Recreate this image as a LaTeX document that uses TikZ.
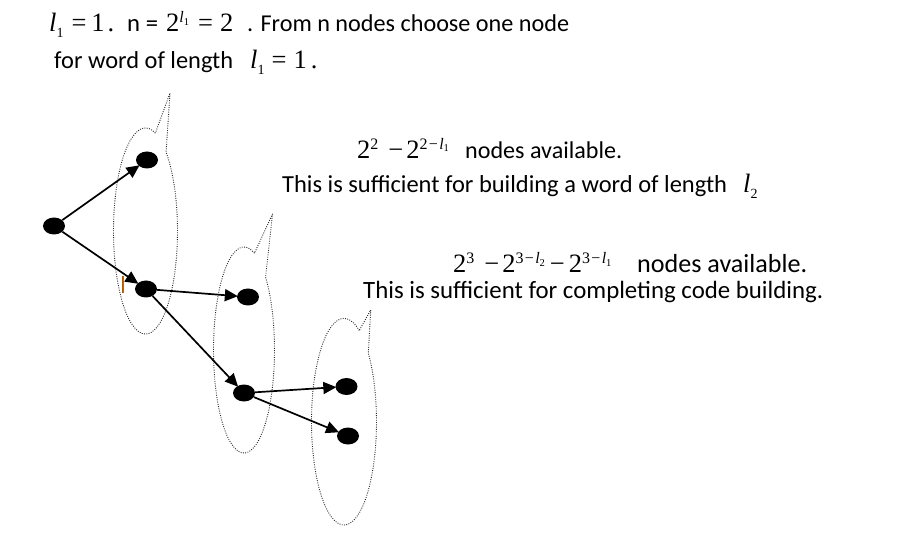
\documentclass[tikz,border=0pt]{standalone}
\usepackage{fontspec}
\setmainfont{Carlito}
\newfontfamily\tm{Liberation Serif}
\usetikzlibrary{shapes.geometric,arrows.meta,calc}
\newcommand\MB{\tm\fontsize{26.5}{26.5}\selectfont}
\newcommand\Sb[1]{\raisebox{-6pt}{\fontsize{14}{14}\selectfont #1}}
\newcommand\Ex[1]{\raisebox{9pt}{\fontsize{16}{16}\selectfont #1}}
\newcommand\SSb[1]{\raisebox{-2.5pt}{\fontsize{10.5}{10.5}\selectfont #1}}
\newcommand\Em{\hspace{1.3pt}−\hspace{1.3pt}}
\tikzset{
  txt/.style={anchor=base west, inner sep=0pt, font=\fontsize{24.7}{26}\selectfont},
  mth/.style={anchor=base west, inner sep=0pt, font=\MB},
  dotnode/.style={ellipse, fill=black, minimum width=22pt, minimum height=17pt, inner sep=0pt},
  arr/.style={line width=1.7pt, -{Triangle[length=13pt,width=12pt]}, shorten >=-1pt},
  bal/.style={black!85, line width=0.9pt, dash pattern=on 0.9pt off 1.4pt, line join=round}
}
\begin{document}
\begin{tikzpicture}[x=1pt,y=1pt]
\useasboundingbox (0,0) rectangle (916,-537);
\fill[white] (0,0) rectangle (916,-537);

% line 1
\node[mth] (m1a) at (49,-31.7) {{\itshape l}\Sb{1}\hspace{8pt}=\hspace{5pt}1\hspace{3pt}.};
\node[txt] (t1a) at (127,-31.7) {n =};
\node[mth] (m1b) at (166,-31.7) {2\Ex{{\itshape l}\SSb{1}}\hspace{9pt}=\hspace{7pt}2};
\node[txt] (t1b) at (247,-31.7) {\resizebox{322pt}{!}{. From n nodes choose one node}};
% line 2
\node[txt] (t2a) at (54,-68.5) {\resizebox{179pt}{!}{for word of length}};
\node[mth] (m2a) at (250,-68.5) {{\itshape l}\Sb{1}\hspace{7pt}=\hspace{7pt}1\hspace{4pt}.};
% block 1
\node[mth] (m3) at (357,-158.3) {2\Ex{2}\hspace{10pt}−\hspace{3pt}2\Ex{2\Em{\itshape l}\SSb{1}}};
\node[txt] (t3) at (465,-158.3) {\resizebox{157pt}{!}{nodes available.}};
\node[txt] (t4) at (282,-192.7) {\resizebox{445pt}{!}{This is sufficient for building a word of length}};
\node[mth] (m4) at (743,-192.7) {{\itshape l}\Sb{2}};
% block 2
\node[mth] (m5) at (453,-273) {2\Ex{3}\hspace{10pt}−\hspace{3pt}2\Ex{3\Em{\itshape l}\SSb{2}}\hspace{5pt}−\hspace{4pt}2\Ex{3\Em{\itshape l}\SSb{1}}};
\node[txt] (t5) at (637,-273) {\resizebox{170pt}{!}{nodes available.}};
\node[txt] (t6) at (363,-299) {\resizebox{460pt}{!}{This is sufficient for completing code building.}};

% balloons
\draw[bal] ($(145.5,-231)+(72:32 and 103)$) arc[start angle=72,end angle=410,x radius=32,y radius=103] -- (170,-93) -- cycle;
\draw[bal] ($(244,-350)+(70:30.5 and 103)$) arc[start angle=70,end angle=405,x radius=30.5,y radius=103] -- (272.5,-214) -- cycle;
\draw[bal] ($(344,-421.7)+(62:32.5 and 103.3)$) arc[start angle=62,end angle=401.5,x radius=32.5,y radius=103.3] -- (370.7,-310) -- cycle;

% nodes
\node[dotnode] (A) at (54,-226) {};
\node[dotnode] (B) at (147,-160) {};
\node[dotnode] (C) at (146,-289) {};
\node[dotnode] (D) at (248,-297) {};
\node[dotnode] (E) at (244,-393) {};
\node[dotnode] (F) at (346.5,-386.5) {};
\node[dotnode] (G) at (348,-436) {};

% arrows
\draw[arr] (A) -- (B);
\draw[arr] (A) -- (C);
\draw[arr] (C) -- (D);
\draw[arr] (C) -- (E);
\draw[arr] (E) -- (F);
\draw[arr] (E) -- (G);

% small cursor mark near C
\draw[orange!70!black, line width=0.8pt] (122.3,-276) -- (122.3,-293);
\draw[blue!60, line width=0.8pt] (123.5,-276) -- (123.5,-293);
\end{tikzpicture}
\end{document}
